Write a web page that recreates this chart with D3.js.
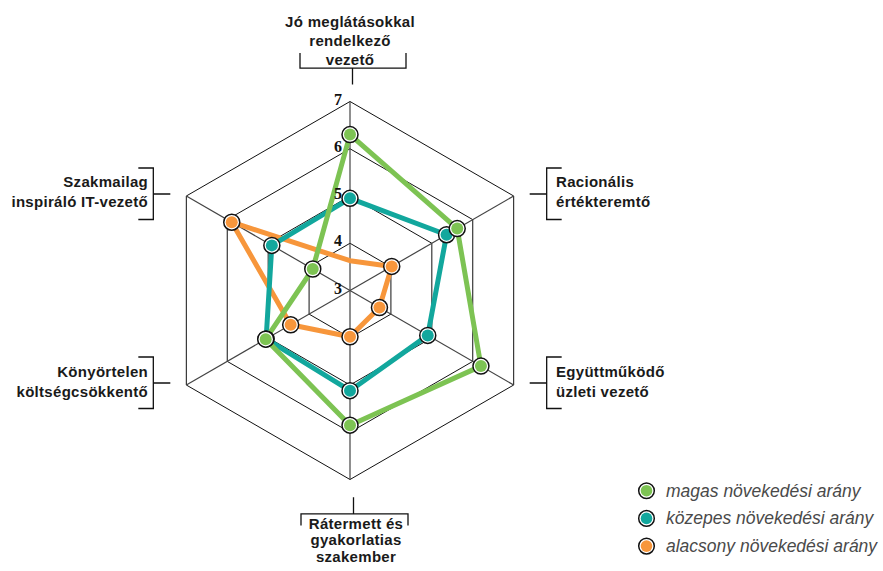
<!DOCTYPE html>
<html>
<head>
<meta charset="utf-8">
<script src="https://cdn.jsdelivr.net/npm/d3@7"></script>
<style>
  html, body { margin: 0; padding: 0; background: #fff; }
  svg { display: block; }
  .cat { font-family: "Liberation Sans", Arial, sans-serif; font-weight: bold; font-size: 15px; letter-spacing: 0.3px; fill: #1a1a1a; }
  .tick { font-family: "Liberation Serif", "Times New Roman", serif; font-weight: bold; font-size: 16px; fill: #111; }
  .leg { font-family: "Liberation Sans", Arial, sans-serif; font-style: italic; font-size: 17.5px; fill: #4a4a4a; }
</style>
</head>
<body>
<svg id="chart" width="883" height="571"></svg>
<script>
// Data
const categories = [
  ["Jó meglátásokkal", "rendelkező", "vezető"],
  ["Racionális", "értékteremtő"],
  ["Együttműködő", "üzleti vezető"],
  ["Rátermett és", "gyakorlatias", "szakember"],
  ["Könyörtelen", "költségcsökkentő"],
  ["Szakmailag", "inspiráló IT-vezető"]
];
const levels = [3, 4, 5, 6, 7];
const magas = [6.30, 5.62, 6.20, 5.85, 5.06, 3.91];
const kozepes = [4.95, 5.36, 4.90, 5.12, 5.05, 4.91];
const alacsony = [3.63, 4.02, 3.72, 3.98, 4.45, 5.89];
const seriesNames = ["magas növekedési arány", "közepes növekedési arány", "alacsony növekedési arány"];

const colors = { magas: "#7dc353", kozepes: "#12a79d", alacsony: "#f7963b" };

const series = [
  { key: "alacsony", values: alacsony, hidden: [0] },   // no marker on the top axis
  { key: "kozepes", values: kozepes, hidden: [] },
  { key: "magas", values: magas, hidden: [] }
];

// Layout
const cx = 350, cy = 290.5, R = 189;
const r = d3.scaleLinear().domain([3, 7]).range([0, R]);
const angle = i => (-90 + 60 * i) * Math.PI / 180;
const pt = (i, v) => [cx + r(v) * Math.cos(angle(i)), cy + r(v) * Math.sin(angle(i))];

const labelLayout = [
  { x: 350, y: 27, lh: 18.8, anchor: "middle" },
  { x: 556, y: 187, lh: 19.7, anchor: "start" },
  { x: 556, y: 377, lh: 19.7, anchor: "start" },
  { x: 356, y: 528.5, lh: 16.7, anchor: "middle" },
  { x: 148, y: 377, lh: 19.7, anchor: "end" },
  { x: 148, y: 187, lh: 19.7, anchor: "end" }
];

const svg = d3.select("#chart");
const gGrid = svg.append("g");
const gLines = svg.append("g");
const gTicks = svg.append("g");
const gDots = svg.append("g");

// grid hexagons
const hex = v => d3.range(6).map(i => pt(i, v));
gGrid.selectAll(".grid")
  .data(levels.filter(l => l > 3)).enter().append("polygon")
  .attr("points", d => hex(d).map(p => p.join(",")).join(" "))
  .attr("fill", "none").attr("stroke", "#111").attr("stroke-width", 1);

// spokes
gGrid.selectAll(".spoke")
  .data(d3.range(6)).enter().append("line")
  .attr("x1", cx).attr("y1", cy)
  .attr("x2", i => pt(i, 7)[0]).attr("y2", i => pt(i, 7)[1])
  .attr("stroke", "#444").attr("stroke-width", 1.2);

// level ticks
gTicks.selectAll(".tick")
  .data(levels).enter().append("text")
  .attr("class", "tick")
  .attr("x", cx - 8).attr("y", d => pt(0, d)[1] + 3)
  .attr("text-anchor", "end")
  .text(d => d);

// brackets
const br = svg.append("g").attr("stroke", "#111").attr("stroke-width", 1.3).attr("fill", "none");
function bracket(i) {
  const [vx, vy] = pt(i, 7);
  let d;
  if (i === 0) {
    const x = vx + 2.5, y = vy - 33.4;
    d = `M${x},${vy - 17}V${y} M${x - 52.5},${y - 15}V${y}H${x + 53.5}V${y - 15}`;
  } else if (i === 3) {
    const x = vx + 3.5, y = vy + 34.3;
    d = `M${x},${vy + 17.7}V${y} M${x - 52.5},${y + 11.7}V${y}H${x + 54.5}V${y + 11.7}`;
  } else {
    const s = i < 3 ? 1 : -1;
    const x = vx + s * 33, y = vy - 2;
    d = `M${vx + s * 16},${y}H${x} M${x + s * 15},${y - 26}H${x}V${y + 25.5}H${x + s * 15}`;
  }
  br.append("path").attr("d", d);
}
d3.range(6).forEach(bracket);

// category labels
categories.forEach((lines, i) => {
  const L = labelLayout[i];
  const t = svg.append("text").attr("class", "cat").attr("text-anchor", L.anchor);
  lines.forEach((s, k) => t.append("tspan").attr("x", L.x).attr("y", L.y + k * L.lh).text(s));
});

// series
const line = d3.line().curve(d3.curveLinearClosed);
series.forEach(s => {
  const pts = s.values.map((v, i) => pt(i, v));
  gLines.append("path").attr("d", line(pts))
    .attr("fill", "none").attr("stroke", colors[s.key])
    .attr("stroke-width", 5).attr("stroke-linejoin", "round");
});
series.forEach(s => {
  const pts = s.values.map((v, i) => pt(i, v));
  const dots = gDots.selectAll(".dot-" + s.key)
    .data(pts.filter((p, i) => !s.hidden.includes(i))).enter().append("g")
    .attr("transform", p => `translate(${p[0]},${p[1]})`);
  dots.append("circle").attr("r", 8).attr("fill", "#fff").attr("stroke", "#111").attr("stroke-width", 1.5);
  dots.append("circle").attr("r", 6).attr("fill", colors[s.key]);
});

// legend
const legKeys = ["magas", "kozepes", "alacsony"];
const leg = svg.append("g").attr("transform", "translate(646.5,490.7)");
const items = leg.selectAll("g").data(legKeys).enter().append("g")
  .attr("transform", (d, i) => `translate(0,${i * 27.7})`);
items.append("circle").attr("r", 7.8).attr("fill", "#fff").attr("stroke", "#111").attr("stroke-width", 1.5);
items.append("circle").attr("r", 5.8).attr("fill", d => colors[d]);
items.append("text").attr("class", "leg").attr("x", 19.5).attr("y", 6)
  .text((d, i) => seriesNames[i]);
</script>
</body>
</html>
